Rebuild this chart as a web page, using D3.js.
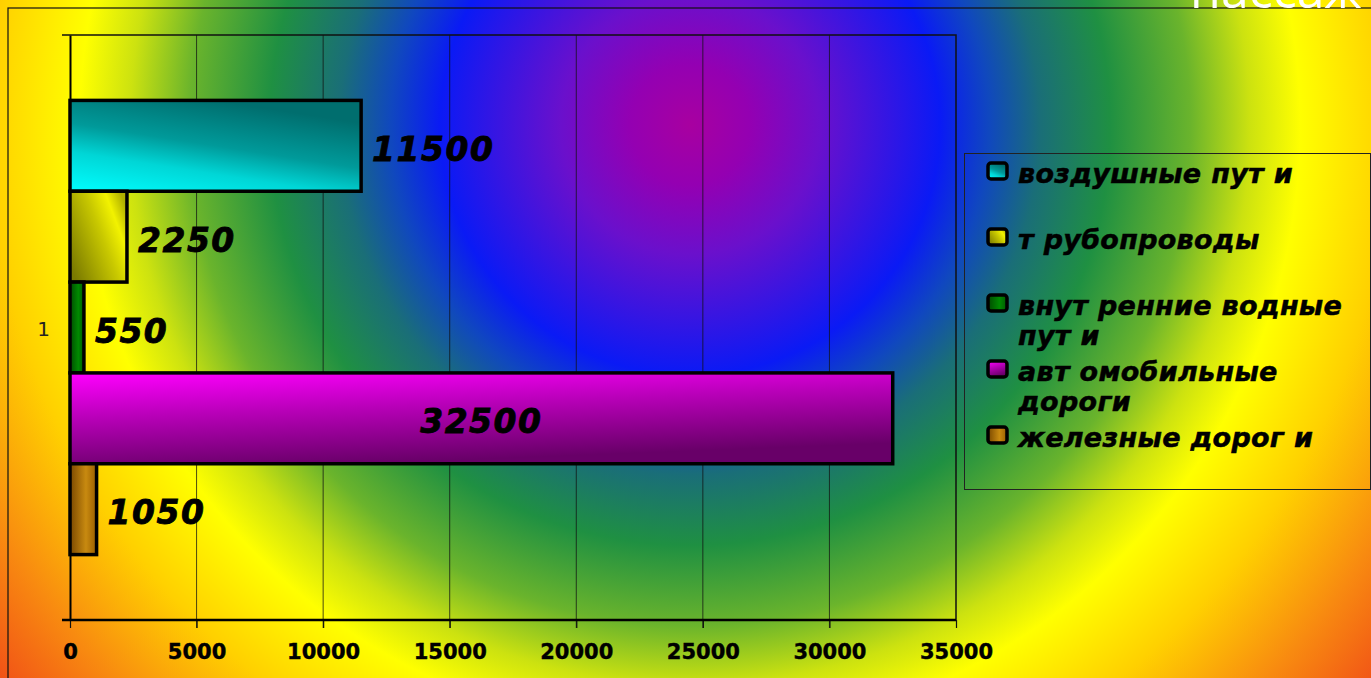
<!DOCTYPE html>
<html>
<head>
<meta charset="utf-8">
<script src="https://cdn.jsdelivr.net/npm/d3@7"></script>
<style>
  html, body { margin: 0; padding: 0; overflow: hidden; }
  text { font-family: "DejaVu Sans", sans-serif; }
</style>
</head>
<body>
<div class="chart"></div>
<script>
// data
const categories = ['1']
const seriesNames = ['воздушные пут и', 'т рубопроводы', 'внут ренние водные пут и', 'авт омобильные дороги', 'железные дорог и']
const values = [11500, 2250, 550, 32500, 1050]
const xTicks = [0, 5000, 10000, 15000, 20000, 25000, 30000, 35000]
const titleText = 'пассаж'

// bar fills: [offset, colour] stops and gradient direction
const fills = [
    { dir: [0, 1, 0.5, 0], stops: [[0, '#00ffff'], [0.35, '#00d6d6'], [0.6, '#009a9a'], [1, '#006e6e']] },
    { dir: [0, 0.8, 1, 0.2], stops: [[0, '#7a7a00'], [0.55, '#c8c800'], [0.8, '#f2f200'], [1, '#b0b000']] },
    { dir: [0, 0, 1, 0], stops: [[0, '#004a00'], [0.6, '#008a00'], [1, '#005a00']] },
    { dir: [0, 0, 0.35, 1], stops: [[0, '#ff00ff'], [0.45, '#b800b8'], [1, '#680068']] },
    { dir: [0, 0, 1, 0], stops: [[0, '#7a4800'], [0.6, '#c88a10'], [1, '#9a5e00']] }
]

const width = 1371
const height = 678
const plot = { left: 70, right: 956, top: 35, bottom: 620 }

const svg = d3.select('.chart').append('svg')
    .attr('width', width)
    .attr('height', height)

const defs = svg.append('defs')

// background: radial wash from magenta to red-orange
const bg = defs.append('radialGradient')
    .attr('id', 'bg')
    .attr('gradientUnits', 'userSpaceOnUse')
    .attr('cx', 690).attr('cy', 125).attr('r', 900)
const bgStops = [
    [0, '#a800a0'], [0.067, '#9400b2'], [0.144, '#6a10cc'], [0.278, '#0a1af5'],
    [0.333, '#1048be'], [0.389, '#1a6e78'], [0.467, '#1f9042'], [0.556, '#6ab42c'],
    [0.622, '#cce210'], [0.678, '#ffff00'], [0.778, '#ffd000'], [0.889, '#f88a10'], [1, '#f04818']
]
bg.selectAll('stop').data(bgStops).enter().append('stop')
    .attr('offset', d => d[0])
    .attr('stop-color', d => d[1])

fills.forEach((f, i) => {
    const g = defs.append('linearGradient')
        .attr('id', 'fill' + i)
        .attr('x1', f.dir[0]).attr('y1', f.dir[1])
        .attr('x2', f.dir[2]).attr('y2', f.dir[3])
    g.selectAll('stop').data(f.stops).enter().append('stop')
        .attr('offset', d => d[0])
        .attr('stop-color', d => d[1])
})

svg.append('rect')
    .attr('width', width).attr('height', height)
    .attr('fill', 'url(#bg)')

// outer chart border (runs off the page to the right and bottom)
svg.append('rect')
    .attr('x', 8).attr('y', 8)
    .attr('width', width + 20).attr('height', height + 20)
    .attr('fill', 'none')
    .attr('stroke', '#111')
    .attr('stroke-width', 1.2)

svg.append('text')
    .attr('x', 1190).attr('y', 8)
    .attr('fill', '#ffffff')
    .style('font-family', '"Open Sans", sans-serif')
    .style('font-size', '50px')
    .text(titleText)

// scales
const x = d3.scaleLinear()
    .domain([0, 35000])
    .range([plot.left, plot.right])

const y0 = d3.scaleBand()
    .domain(categories)
    .range([plot.top, plot.bottom])
    .paddingInner(0)
    .paddingOuter(0.144)

const y1 = d3.scaleBand()
    .domain(seriesNames)
    .range([0, y0.bandwidth()])

// grid
svg.append('g').selectAll('line')
    .data(xTicks.slice(1, -1))
    .enter().append('line')
    .attr('x1', d => x(d)).attr('x2', d => x(d))
    .attr('y1', plot.top).attr('y2', plot.bottom + 8)
    .attr('stroke', '#111')
    .attr('stroke-opacity', 0.75)
    .attr('stroke-width', 1)

// plot frame top and right
svg.append('path')
    .attr('d', `M${plot.left - 8},${plot.top}H${plot.right}V${plot.bottom}`)
    .attr('fill', 'none')
    .attr('stroke', '#111')
    .attr('stroke-width', 1.5)

// x axis
const xAxis = svg.append('g')
    .attr('transform', `translate(0,${plot.bottom})`)
    .call(d3.axisBottom(x).tickValues(xTicks).tickFormat(d3.format('d'))
        .tickSize(8).tickPadding(16).tickSizeOuter(0))
xAxis.select('.domain').remove()
xAxis.append('line')
    .attr('x1', plot.left - 8).attr('x2', plot.right)
    .attr('stroke', '#000').attr('stroke-width', 2.5)
xAxis.selectAll('.tick line').attr('stroke', '#111').attr('stroke-width', 1.2)
xAxis.selectAll('.tick text')
    .attr('fill', '#000')
    .attr('stroke', '#000')
    .attr('stroke-width', 0.4)
    .style('font-family', '"DejaVu Sans", sans-serif')
    .style('font-size', '21px')
    .style('font-weight', 'bold')

// y axis
const yAxis = svg.append('g')
    .attr('transform', `translate(${plot.left},0)`)
    .call(d3.axisLeft(y0).tickSize(0).tickPadding(20))
yAxis.select('.domain').attr('stroke', '#000').attr('stroke-width', 2)
yAxis.selectAll('.tick text')
    .attr('fill', '#222')
    .style('font-size', '20px')
    .attr('dy', '0.4em')
svg.append('line')
    .attr('x1', plot.left - 8).attr('x2', plot.left)
    .attr('y1', plot.bottom).attr('y2', plot.bottom)
    .attr('stroke', '#000').attr('stroke-width', 1.5)

// bars
const rows = seriesNames.map((name, i) => ({ name: name, value: values[i], i: i, cat: categories[0] }))

const bars = svg.append('g')
bars.selectAll('rect')
    .data(rows)
    .enter().append('rect')
    .attr('x', x(0))
    .attr('y', d => y0(d.cat) + y1(d.name))
    .attr('width', d => x(d.value) - x(0))
    .attr('height', y1.bandwidth())
    .attr('fill', d => 'url(#fill' + d.i + ')')
    .attr('stroke', '#000')
    .attr('stroke-width', 3.5)

// value labels: outside end, centred inside when they would leave the plot
const labels = svg.append('g')
labels.selectAll('text')
    .data(rows)
    .enter().append('text')
    .attr('y', d => y0(d.cat) + y1(d.name) + y1.bandwidth() / 2 + 15)
    .attr('fill', '#000')
    .attr('stroke', '#000')
    .attr('stroke-width', 0.8)
    .style('font-size', '33px')
    .style('font-weight', 'bold')
    .style('font-style', 'italic')
    .style('letter-spacing', '1.5px')
    .text(d => d.value)
    .each(function (d) {
        const w = this.getComputedTextLength()
        const end = x(d.value)
        if (end + 11 + w > plot.right) {
            d3.select(this).attr('x', (x(0) + end) / 2).attr('text-anchor', 'middle')
        } else {
            d3.select(this).attr('x', end + 11)
        }
    })

// legend
const legend = svg.append('g')
legend.append('rect')
    .attr('x', 964.5).attr('y', 153.5)
    .attr('width', 406).attr('height', 336)
    .attr('fill', 'none')
    .attr('stroke', '#222')
    .attr('stroke-width', 1)

const item = legend.selectAll('g.item')
    .data(rows)
    .enter().append('g')
    .attr('class', 'item')
    .attr('transform', d => `translate(0,${183 + d.i * 66})`)

item.append('rect')
    .attr('x', 988).attr('y', -20)
    .attr('width', 19).attr('height', 16)
    .attr('rx', 3)
    .attr('fill', d => 'url(#fill' + d.i + ')')
    .attr('stroke', '#000')
    .attr('stroke-width', 3.5)

item.append('text')
    .attr('x', 1018)
    .attr('fill', '#000')
    .attr('stroke', '#000')
    .attr('stroke-width', 0.5)
    .style('font-size', '27px')
    .style('font-weight', 'bold')
    .style('font-style', 'italic')
    .style('letter-spacing', '0.3px')
    .each(function (d) {
        // wrap words into lines that fit the legend box
        const el = d3.select(this)
        const words = d.name.split(' ')
        let line = []
        let lineNo = 0
        let tspan = el.append('tspan').attr('x', 1018).attr('y', 0)
        words.forEach(w => {
            line.push(w)
            tspan.text(line.join(' '))
            if (tspan.node().getComputedTextLength() > 345 && line.length > 1) {
                line.pop()
                tspan.text(line.join(' '))
                line = [w]
                lineNo++
                tspan = el.append('tspan').attr('x', 1018).attr('y', lineNo * 29.5).text(w)
            }
        })
    })
</script>
</body>
</html>
